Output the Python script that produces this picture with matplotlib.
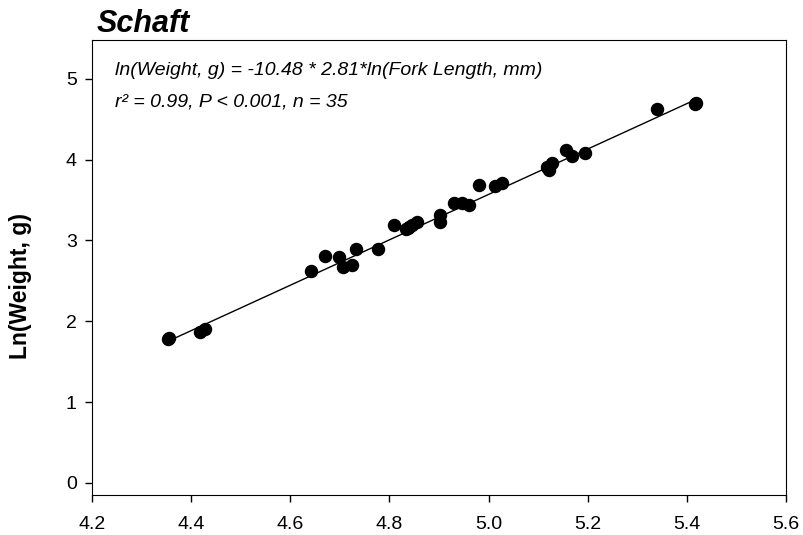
import matplotlib.pyplot as plt
import numpy as np

plt.rcParams['font.family'] = ['Liberation Sans', 'DejaVu Sans']

# ln(fork length, mm) and ln(weight, g)
ln_length = [4.354, 4.355, 4.417, 4.428, 4.642, 4.670, 4.698, 4.707, 4.725, 4.733,
             4.776, 4.809, 4.833, 4.838, 4.840, 4.845, 4.856, 4.902, 4.902, 4.930,
             4.946, 4.960, 4.980, 5.014, 5.028, 5.117, 5.121, 5.120, 5.127, 5.156,
             5.168, 5.195, 5.339, 5.416, 5.418]
ln_weight = [1.78, 1.79, 1.87, 1.90, 2.62, 2.81, 2.80, 2.67, 2.70, 2.90,
             2.90, 3.19, 3.14, 3.16, 3.17, 3.19, 3.23, 3.31, 3.23, 3.47,
             3.47, 3.44, 3.69, 3.68, 3.71, 3.91, 3.87, 3.90, 3.96, 4.12,
             4.04, 4.08, 4.63, 4.69, 4.70]

intercept = -10.48
slope = 2.81

fig = plt.figure(figsize=(8.04, 5.35), dpi=100)
ax = fig.add_axes([0.1144, 0.0748, 0.8632, 0.8502])

# fitted line over the data range
xfit = np.array([min(ln_length), max(ln_length)])
ax.plot(xfit, intercept + slope * xfit, color='black', lw=1)
ax.scatter(ln_length, ln_weight, s=75, color='black', zorder=3)

ax.set_xlim(4.2, 5.6)
ax.set_ylim(-0.15, 5.48)
ax.set_xticks([4.2, 4.4, 4.6, 4.8, 5.0, 5.2, 5.4, 5.6])
ax.set_xticklabels(['4.2', '4.4', '4.6', '4.8', '5.0', '5.2', '5.4', '5.6'])
ax.set_yticks([0, 1, 2, 3, 4, 5])
ax.tick_params(labelsize=14, length=5, width=1, direction='out')
ax.tick_params(axis='x', pad=10)
ax.tick_params(axis='y', pad=6)

ax.set_ylabel('Ln(Weight, g)', fontsize=16.5, fontweight='bold')
ax.yaxis.set_label_coords(-0.086, 0.46)

ax.text(0.007, 1.018, 'Schaft', transform=ax.transAxes, fontsize=22,
        fontweight='bold', style='italic', ha='left', va='baseline')
ax.text(4.246, 5.11, 'ln(Weight, g) = -10.48 * 2.81*ln(Fork Length, mm)',
        fontsize=14, style='italic', va='center')
ax.text(4.246, 4.71, 'r² = 0.99, P < 0.001, n = 35',
        fontsize=14, style='italic', va='center')

plt.savefig('out.png', dpi=100)
